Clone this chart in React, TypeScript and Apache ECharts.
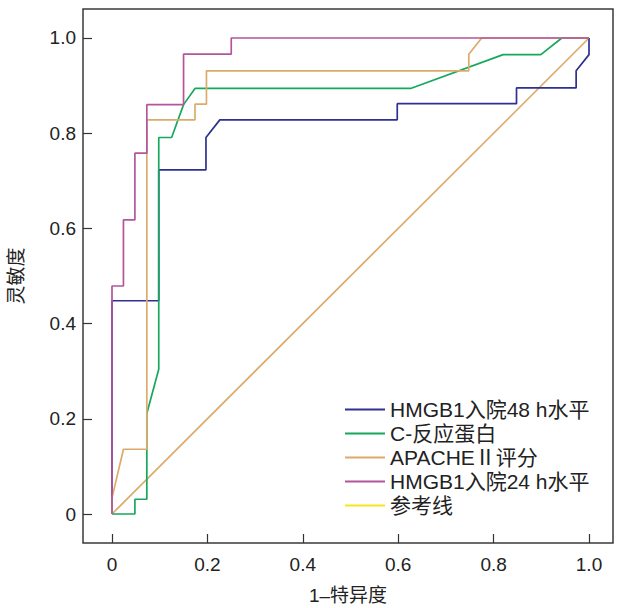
import React, { useEffect, useRef } from "react";
import * as echarts from "echarts";

const seriesNames = ["HMGB1入院48 h水平", "C-反应蛋白", "APACHEⅡ评分", "HMGB1入院24 h水平", "参考线"];

const hmgb48: number[][] = [
  [0, 0], [0, 0.448], [0.098, 0.448], [0.098, 0.723], [0.197, 0.723], [0.197, 0.791],
  [0.226, 0.828], [0.598, 0.828], [0.598, 0.862], [0.848, 0.862], [0.848, 0.895],
  [0.973, 0.895], [0.973, 0.931], [1, 0.965], [1, 1],
];
const crp: number[][] = [
  [0, 0], [0.048, 0], [0.048, 0.031], [0.073, 0.031], [0.073, 0.211], [0.098, 0.304],
  [0.098, 0.791], [0.125, 0.791], [0.15, 0.86], [0.174, 0.894], [0.626, 0.894],
  [0.82, 0.965], [0.899, 0.965], [0.943, 1], [1, 1],
];
const apache: number[][] = [
  [0, 0], [0, 0.034], [0.024, 0.136], [0.073, 0.136], [0.073, 0.828], [0.174, 0.828],
  [0.174, 0.861], [0.198, 0.861], [0.198, 0.931], [0.748, 0.931], [0.748, 0.966],
  [0.775, 1], [1, 1],
];
const hmgb24: number[][] = [
  [0, 0], [0, 0.479], [0.024, 0.479], [0.024, 0.618], [0.048, 0.618], [0.048, 0.758],
  [0.073, 0.758], [0.073, 0.86], [0.15, 0.86], [0.15, 0.966], [0.25, 0.966], [0.25, 1], [1, 1],
];
const reference: number[][] = [[0, 0], [1, 1]];

const tickValues = [0, 0.2, 0.4, 0.6, 0.8, 1.0];

const colors = ["#2e3192", "#16a85c", "#dcab6b", "#b2559c", "#dcab6b"];
const legendColors = ["#2e3192", "#16a85c", "#dcab6b", "#b2559c", "#f5e51c"];

const FONT = "'Liberation Sans', Arial, 'Noto Sans CJK SC', sans-serif";

export default function App() {
  const ref = useRef<HTMLDivElement>(null);
  useEffect(() => {
    if (!ref.current) return;
    const chart = echarts.init(ref.current, null, { renderer: "svg" });
    const fmt = (v: number) => (v === 0 ? "0" : v.toFixed(1));
    const allData = [hmgb48, crp, apache, hmgb24, reference];
    const order = [4, 0, 1, 2, 3];
    chart.setOption({
      animation: false,
      textStyle: { fontFamily: FONT },
      grid: {
        left: 83, right: 4, top: 9, bottom: 65,
        show: true, borderColor: "#3a3a3a", borderWidth: 1.5,
        containLabel: false, outerBoundsMode: "none",
      },
      legend: {
        orient: "vertical",
        left: 340, top: 394,
        itemWidth: 40, itemHeight: 2, itemGap: 3,
        icon: "path://M0,0L40,0L40,2L0,2Z",
        textStyle: { fontSize: 21, color: "#222", fontFamily: FONT },
        data: seriesNames.map((n, i) => ({
          name: n,
          itemStyle: { color: legendColors[i] },
        })),
      },
      xAxis: {
        type: "value",
        min: -0.0608, max: 1.0503,
        name: "1–特异度",
        nameLocation: "middle",
        nameGap: 43,
        nameTextStyle: { fontSize: 19, color: "#222", fontFamily: FONT },
        axisLine: { show: false, onZero: false },
        splitLine: { show: false },
        axisTick: { show: true, inside: true, length: 9, customValues: tickValues, lineStyle: { color: "#333", width: 1.2 } },
        axisLabel: { customValues: tickValues, formatter: fmt, fontSize: 19, color: "#222", margin: 12, fontFamily: FONT },
      },
      yAxis: {
        type: "value",
        min: -0.0609, max: 1.0609,
        name: "灵敏度",
        nameLocation: "middle",
        nameGap: 57,
        nameRotate: 90,
        nameTextStyle: { fontSize: 19, color: "#222", fontFamily: FONT },
        axisLine: { show: false, onZero: false },
        splitLine: { show: false },
        axisTick: { show: true, inside: true, length: 9, customValues: tickValues, lineStyle: { color: "#333", width: 1.2 } },
        axisLabel: { customValues: tickValues, formatter: fmt, fontSize: 19, color: "#222", margin: 7, fontFamily: FONT },
      },
      series: order.map((i) => ({
        name: seriesNames[i],
        type: "line",
        data: allData[i],
        showSymbol: false,
        symbol: "none",
        color: colors[i],
        lineStyle: { color: colors[i], width: 1.7 },
        z: 2 + order.indexOf(i),
      })),
    });
    return () => chart.dispose();
  }, []);
  return <div ref={ref} style={{ width: 617, height: 608, position: "absolute", left: 0, top: 0 }} />;
}
